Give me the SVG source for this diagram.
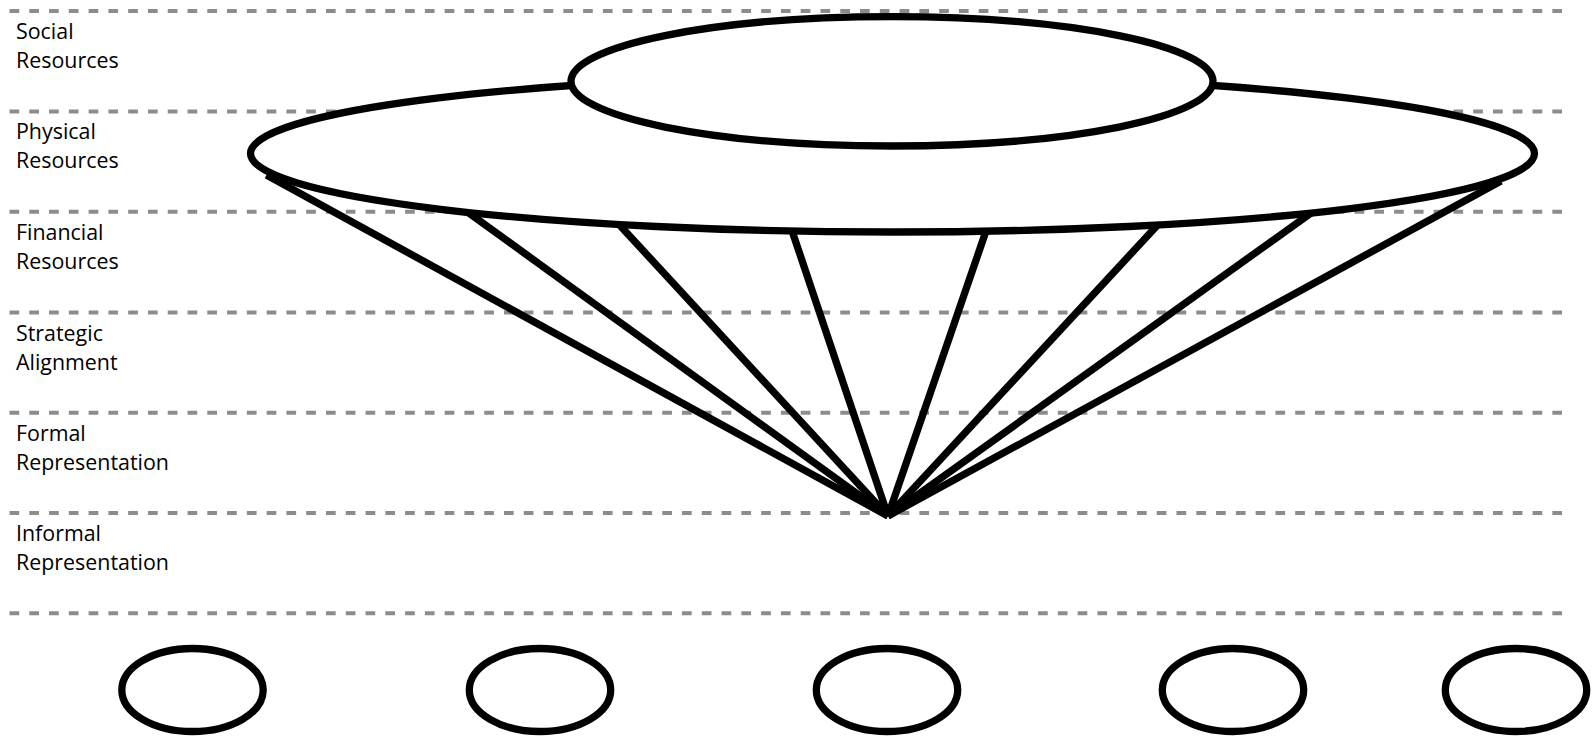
<svg xmlns="http://www.w3.org/2000/svg" width="1595" height="736" viewBox="0 0 1595 736">
  <style>
    .grid { stroke: #8c8c8c; stroke-width: 4; stroke-dasharray: 9.7 10.08; fill: none; }
    .lbl { font-family: "Open Sans", "Liberation Sans", sans-serif; font-size: 21.4px; fill: #000; }
    .node { fill: #fff; stroke: #000; stroke-width: 7.3; }
    .conn { stroke: #000; stroke-width: 7.3; fill: none; stroke-linecap: butt; }
  </style>
  <rect width="1595" height="736" fill="#fff"/>
  <g id="levels">
    <line class="grid" x1="9.5" y1="11" x2="1563" y2="11"/>
    <line class="grid" x1="9.5" y1="111.4" x2="1563" y2="111.4"/>
    <line class="grid" x1="9.5" y1="211.7" x2="1563" y2="211.7"/>
    <line class="grid" x1="9.5" y1="312.5" x2="1563" y2="312.5"/>
    <line class="grid" x1="9.5" y1="412.8" x2="1563" y2="412.8"/>
    <line class="grid" x1="9.5" y1="513" x2="1563" y2="513"/>
    <line class="grid" x1="9.5" y1="613.2" x2="1563" y2="613.2"/>
  </g>
  <g id="labels">
    <text class="lbl" x="16" y="39">Social</text>
    <text class="lbl" x="16" y="68">Resources</text>
    <text class="lbl" x="16" y="139.4">Physical</text>
    <text class="lbl" x="16" y="168.4">Resources</text>
    <text class="lbl" x="16" y="239.7">Financial</text>
    <text class="lbl" x="16" y="268.7">Resources</text>
    <text class="lbl" x="16" y="340.5">Strategic</text>
    <text class="lbl" x="16" y="369.5">Alignment</text>
    <text class="lbl" x="16" y="440.8">Formal</text>
    <text class="lbl" x="16" y="469.8">Representation</text>
    <text class="lbl" x="16" y="541">Informal</text>
    <text class="lbl" x="16" y="570">Representation</text>
  </g>
  <g id="connectors">
    <line class="conn" x1="888" y1="516" x2="266.5" y2="175"/>
    <line class="conn" x1="888" y1="516" x2="448" y2="198"/>
    <line class="conn" x1="888" y1="516" x2="606.6" y2="211"/>
    <line class="conn" x1="888" y1="516" x2="787.7" y2="218"/>
    <line class="conn" x1="888" y1="516" x2="990.5" y2="218"/>
    <line class="conn" x1="888" y1="516" x2="1170.6" y2="211"/>
    <line class="conn" x1="888" y1="516" x2="1332" y2="198"/>
    <line class="conn" x1="888" y1="516" x2="1501" y2="181"/>
  </g>
  <g id="physical-ellipse">
    <ellipse class="node" cx="892.5" cy="153.5" rx="642" ry="78.5"/>
  </g>
  <g id="social-ellipse">
    <ellipse class="node" cx="892" cy="81.3" rx="321" ry="64.7"/>
  </g>
  <g id="bottom-node-1"><ellipse class="node" cx="192.5" cy="690" rx="70.7" ry="41.5"/></g>
  <g id="bottom-node-2"><ellipse class="node" cx="540" cy="690" rx="70.7" ry="41.5"/></g>
  <g id="bottom-node-3"><ellipse class="node" cx="887" cy="690" rx="70.7" ry="41.5"/></g>
  <g id="bottom-node-4"><ellipse class="node" cx="1233" cy="690" rx="70.7" ry="41.5"/></g>
  <g id="bottom-node-5"><ellipse class="node" cx="1516" cy="690" rx="70.7" ry="41.5"/></g>
</svg>
